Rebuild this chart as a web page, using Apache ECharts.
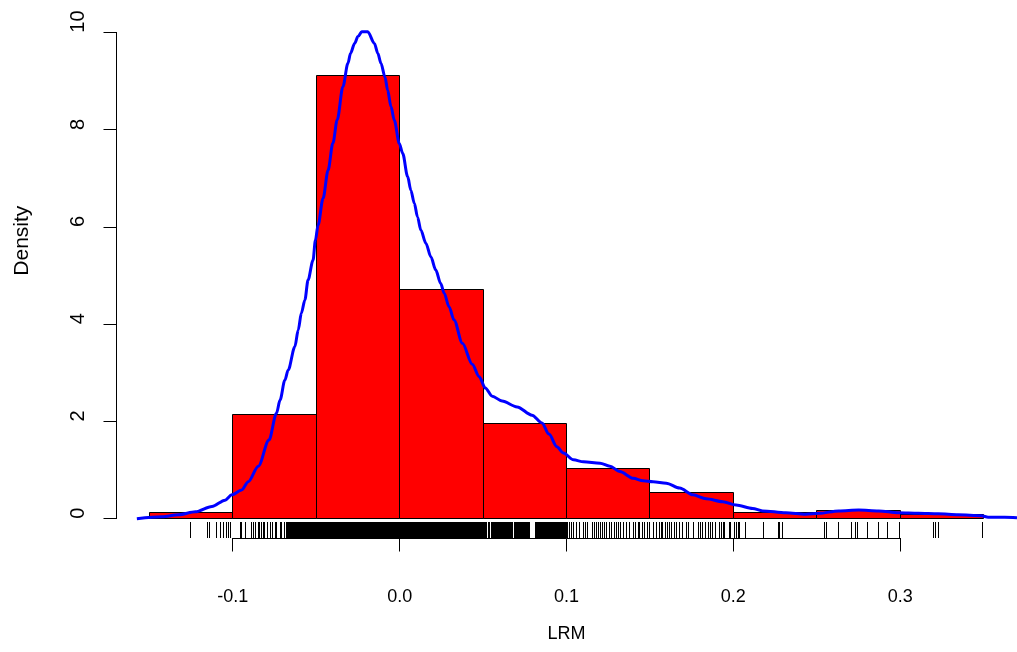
<!DOCTYPE html>
<html>
<head>
<meta charset="utf-8">
<script src="https://cdn.jsdelivr.net/npm/echarts@6/dist/echarts.min.js"></script>
<style>
html,body{margin:0;padding:0;background:#fff;}
#chart{width:1017px;height:652px;}
</style>
</head>
<body>
<div id="chart"></div>
<script>
// ---- data ----
const breaks = [-0.15,-0.10,-0.05,0.00,0.05,0.10,0.15,0.20,0.25,0.30,0.35];
const densities = [0.13,2.14,9.11,4.72,1.96,1.04,0.535,0.12,0.165,0.09];

const curveX = [-0.1575,-0.1424,-0.1324,-0.1224,-0.1125,-0.1046,-0.1006,-0.0947,-0.0907,-0.0847,
-0.0783,-0.0738,-0.0717,-0.0688,-0.0668,-0.0628,-0.0608,-0.0589,-0.0568,-0.0549,
-0.0519,-0.0505,-0.0489,-0.0459,-0.0429,-0.0400,-0.0374,-0.0340,-0.0310,-0.0294,
-0.0270,-0.0250,-0.0227,-0.0191,-0.0151,-0.0131,-0.0112,-0.0088,-0.0072,-0.0052,
-0.0032,-0.0002,0.0018,0.0048,0.0067,0.0088,0.0107,0.0127,0.0157,0.0187,
0.0216,0.0246,0.0267,0.0296,0.0326,0.0376,0.0435,0.0477,0.0513,0.0555,
0.0614,0.0704,0.0793,0.0853,0.0895,0.0942,0.0982,0.1042,0.1102,0.1201,
0.1260,0.1320,0.1400,0.1459,0.1519,0.1598,0.1678,0.1758,0.1837,0.1937,
0.2016,0.2116,0.2175,0.2314,0.2433,0.2513,0.2632,0.2751,0.2871,0.2990,
0.3109,0.3228,0.3348,0.3487,0.3527,0.3626,0.3700];
const curveY = [0.00,0.04,0.08,0.14,0.25,0.38,0.49,0.59,0.76,1.08,
1.62,2.17,2.44,2.85,3.06,3.54,3.88,4.23,4.50,4.91,
5.32,5.73,6.04,6.59,7.17,7.73,8.21,8.89,9.37,9.58,
9.78,9.92,10.02,10.02,9.78,9.58,9.37,9.09,8.82,8.48,
8.20,7.72,7.52,7.04,6.76,6.49,6.21,5.94,5.67,5.39,
5.12,4.84,4.64,4.36,4.09,3.61,3.18,2.92,2.69,2.52,
2.42,2.30,2.13,1.97,1.74,1.48,1.35,1.21,1.17,1.14,
1.08,0.97,0.83,0.78,0.76,0.73,0.63,0.49,0.41,0.35,
0.28,0.21,0.16,0.12,0.09,0.11,0.16,0.18,0.16,0.12,
0.11,0.10,0.08,0.06,0.03,0.03,0.02];

const rugValues = [
-0.1254,-0.1151,-0.1139,-0.1096,-0.1075,-0.1056,-0.1040,-0.1026,-0.1016,
-0.0956,-0.0947,-0.0926,-0.0890,-0.0877,-0.0863,-0.0847,-0.0837,-0.0827,-0.0817,-0.0807,
-0.0791,-0.0777,-0.0763,-0.0747,-0.0738,-0.0717,-0.0708,-0.0688,
-0.0680,-0.0674,-0.0668,-0.0662,-0.0656,-0.0650,-0.0644,-0.0638,-0.0632,-0.0626,
-0.0620,-0.0614,-0.0608,-0.0602,-0.0596,-0.0590,-0.0584,-0.0578,-0.0572,-0.0566,
-0.0560,-0.0554,-0.0548,-0.0542,-0.0536,-0.0530,-0.0524,-0.0518,-0.0512,-0.0506,
-0.0500,-0.0494,-0.0488,-0.0482,-0.0476,-0.0470,-0.0464,-0.0458,-0.0452,-0.0446,
-0.0440,-0.0434,-0.0428,-0.0422,-0.0416,-0.0410,-0.0404,-0.0398,-0.0392,-0.0386,
-0.0380,-0.0374,-0.0368,-0.0362,-0.0356,-0.0350,-0.0344,-0.0338,-0.0332,-0.0326,
-0.0320,-0.0314,-0.0308,-0.0302,-0.0296,-0.0290,-0.0284,-0.0278,-0.0272,-0.0266,
-0.0260,-0.0254,-0.0248,-0.0242,-0.0236,-0.0230,-0.0224,-0.0218,-0.0212,-0.0206,
-0.0200,-0.0194,-0.0188,-0.0182,-0.0176,-0.0170,-0.0164,-0.0158,-0.0152,-0.0146,
-0.0140,-0.0134,-0.0128,-0.0122,-0.0116,-0.0110,-0.0104,-0.0098,-0.0092,-0.0086,
-0.0080,-0.0074,-0.0068,-0.0062,-0.0056,-0.0050,-0.0044,-0.0038,-0.0032,-0.0026,
-0.0020,-0.0014,-0.0008,-0.0002,0.0004,0.0010,0.0016,0.0022,0.0028,0.0034,
0.0040,0.0046,0.0052,0.0058,0.0064,0.0070,0.0076,0.0082,0.0088,0.0094,
0.0100,0.0106,0.0112,0.0118,0.0124,0.0130,0.0136,0.0142,0.0148,0.0154,
0.0160,0.0166,0.0172,0.0178,0.0184,0.0190,0.0196,0.0202,0.0208,0.0214,
0.0220,0.0226,0.0232,0.0238,0.0244,0.0250,0.0256,0.0262,0.0268,0.0274,
0.0280,0.0286,0.0292,0.0298,0.0304,0.0310,0.0316,0.0322,0.0328,0.0334,
0.0340,0.0346,0.0352,0.0358,0.0364,0.0370,0.0376,0.0382,0.0388,0.0394,
0.0400,0.0406,0.0412,0.0418,0.0424,0.0430,0.0436,0.0442,0.0448,0.0454,
0.0460,0.0466,0.0472,0.0478,0.0484,0.0490,0.0496,0.0502,0.0508,0.0514,
0.0520,0.0532,0.0538,0.0550,0.0556,0.0562,0.0568,0.0574,0.0580,0.0586,
0.0592,0.0598,0.0604,0.0610,0.0616,0.0622,0.0628,0.0634,0.0640,0.0646,
0.0652,0.0658,0.0664,0.0670,0.0676,0.0688,0.0694,0.0700,0.0706,0.0712,
0.0718,0.0724,0.0730,0.0736,0.0742,0.0748,0.0754,0.0760,0.0766,0.0772,
0.0778,0.0814,0.0820,0.0826,0.0832,0.0838,0.0844,0.0850,0.0856,0.0862,
0.0868,0.0874,0.0880,0.0886,0.0892,0.0898,0.0904,0.0910,0.0916,0.0922,
0.0928,0.0934,0.0940,0.0946,0.0952,0.0958,0.0964,0.0970,0.0976,0.0982,
0.0988,0.0994,0.1000,
0.1008,0.1020,0.1032,0.1042,0.1062,0.1075,0.1102,0.1114,0.1126,
0.1155,0.1167,0.1179,0.1190,0.1205,0.1217,0.1229,0.1240,
0.1260,0.1272,0.1286,0.1299,0.1310,0.1325,0.1340,0.1360,0.1378,
0.1400,0.1415,0.1429,0.1440,0.1454,0.1469,0.1484,0.1500,
0.1524,0.1538,0.1555,0.1567,0.1578,0.1594,0.1607,0.1618,0.1632,0.1647,
0.1658,0.1677,0.1698,0.1717,0.1730,0.1760,0.1794,0.1806,0.1817,0.1836,
0.1853,0.1866,0.1873,0.1891,0.1914,0.1926,0.1938,0.1944,0.1974,0.1980,
0.2004,0.2016,0.2028,0.2034,0.2070,0.2183,0.2272,0.2278,0.2296,
0.2546,0.2558,0.2630,0.2708,0.2731,0.2743,0.2803,0.2869,0.2922,0.2994,
0.3197,0.3209,0.3227,0.3495];

const xTicks = [-0.1, 0.0, 0.1, 0.2, 0.3];
const xTickLabels = ['-0.1', '0.0', '0.1', '0.2', '0.3'];
const yTicks = [0, 2, 4, 6, 8, 10];
const yTickLabels = ['0', '2', '4', '6', '8', '10'];
const xTitle = 'LRM';
const yTitle = 'Density';

// ---- axis ranges (R style: 4% extension) ----
const X_MIN = -0.17, X_MAX = 0.37;
const Y_MIN = -0.4, Y_MAX = 10.4;

const FONT = "'Liberation Sans', Arial, Helvetica, sans-serif";
const TICK_LEN = 13;
const RUG_LEN = 16;

function labelFor(ticks, labels) {
  return function (v) {
    for (let i = 0; i < ticks.length; i++) {
      if (Math.abs(ticks[i] - v) < 1e-9) return labels[i];
    }
    return '';
  };
}

const barData = densities.map((d, i) => [breaks[i], breaks[i + 1], d]);
const curveData = curveX.map((x, i) => [x, curveY[i]]);
const rugData = rugValues.map(v => [v]);
const snap = v => Math.round(v - 0.5) + 0.5;

const chart = echarts.init(document.getElementById('chart'), null, { renderer: 'canvas' });

chart.setOption({
  backgroundColor: '#ffffff',
  animation: false,
  grid: { left: 116, top: 13.3, width: 905.4, height: 524.8, containLabel: false },
  xAxis: {
    type: 'value', min: X_MIN, max: X_MAX,
    splitLine: { show: false },
    axisLine: { show: false },
    axisTick: { show: false },
    axisLabel: { show: true, customValues: xTicks, formatter: labelFor(xTicks, xTickLabels),
      margin: 50, fontSize: 18, color: '#000', fontFamily: FONT },
    name: xTitle, nameLocation: 'middle', nameGap: 87,
    nameTextStyle: { fontSize: 18, color: '#000', fontFamily: FONT }
  },
  yAxis: {
    type: 'value', min: Y_MIN, max: Y_MAX,
    splitLine: { show: false },
    axisLine: { show: false },
    axisTick: { show: false },
    axisLabel: { show: true, customValues: yTicks, formatter: labelFor(yTicks, yTickLabels),
      rotate: 90, align: 'left', margin: 28, fontSize: 20, color: '#000', fontFamily: FONT },
    name: yTitle, nameLocation: 'middle', nameGap: 83, nameRotate: 90,
    nameTextStyle: { fontSize: 21, color: '#000', fontFamily: FONT, align: 'left' }
  },
  series: [
    {
      name: 'histogram', type: 'custom', z: 2,
      encode: { x: [0, 1], y: 2 },
      data: barData,
      renderItem: function (params, api) {
        const p0 = api.coord([api.value(0), api.value(2)]);
        const p1 = api.coord([api.value(1), 0]);
        const x0 = snap(p0[0]), x1 = snap(p1[0]);
        const y0 = snap(p0[1]), y1 = snap(p1[1]);
        return {
          type: 'rect',
          shape: { x: x0, y: y0, width: x1 - x0, height: y1 - y0 },
          style: { fill: '#ff0000', stroke: '#000000', lineWidth: 1 }
        };
      }
    },
    {
      name: 'density', type: 'line', z: 3,
      data: curveData, showSymbol: false, symbol: 'none',
      smooth: 0.3, smoothMonotone: 'x',
      lineStyle: { color: '#0000ff', width: 3 }
    },
    {
      name: 'rug', type: 'custom', z: 4, clip: false,
      encode: { x: 0 },
      data: rugData,
      renderItem: function (params, api) {
        const p = api.coord([api.value(0), Y_MIN]);
        const x = snap(p[0]);
        const yb = Math.round(p[1]);
        return {
          type: 'line',
          shape: { x1: x, y1: yb, x2: x, y2: yb - RUG_LEN },
          style: { stroke: '#000000', lineWidth: 1 }
        };
      }
    },
    {
      name: 'axes', type: 'custom', z: 5, clip: false,
      data: [[0]],
      renderItem: function (params, api) {
        const children = [];
        const xa0 = api.coord([xTicks[0], Y_MIN]);
        const xa1 = api.coord([xTicks[xTicks.length - 1], Y_MIN]);
        const ya0 = api.coord([X_MIN, yTicks[0]]);
        const ya1 = api.coord([X_MIN, yTicks[yTicks.length - 1]]);
        const xy = snap(xa0[1]);
        const yx = snap(ya0[0]);
        children.push({ type: 'line', shape: { x1: snap(xa0[0]), y1: xy, x2: snap(xa1[0]), y2: xy },
          style: { stroke: '#000', lineWidth: 1, lineCap: 'square' } });
        children.push({ type: 'line', shape: { x1: yx, y1: snap(ya0[1]), x2: yx, y2: snap(ya1[1]) },
          style: { stroke: '#000', lineWidth: 1, lineCap: 'square' } });
        xTicks.forEach(function (t) {
          const p = api.coord([t, Y_MIN]);
          const x = snap(p[0]);
          children.push({ type: 'line', shape: { x1: x, y1: xy, x2: x, y2: xy + TICK_LEN },
            style: { stroke: '#000', lineWidth: 1 } });
        });
        yTicks.forEach(function (t) {
          const p = api.coord([X_MIN, t]);
          const y = snap(p[1]);
          children.push({ type: 'line', shape: { x1: yx, y1: y, x2: yx - TICK_LEN, y2: y },
            style: { stroke: '#000', lineWidth: 1 } });
        });
        return { type: 'group', children: children };
      }
    }
  ]
});
</script>
</body>
</html>
